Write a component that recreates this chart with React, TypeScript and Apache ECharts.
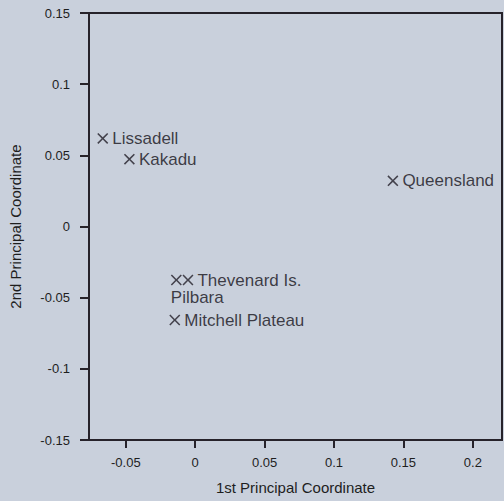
import React, { useEffect, useRef } from "react";
import * as echarts from "echarts";

const siteNames = ["Lissadell", "Kakadu", "Queensland", "Thevenard Is.", "Pilbara", "Mitchell Plateau"];
const pc1 = [-0.0666, -0.0474, 0.1424, -0.0052, -0.0136, -0.0147];
const pc2 = [0.0619, 0.0473, 0.0321, -0.0376, -0.0376, -0.0657];
const xTicks = [-0.05, 0, 0.05, 0.1, 0.15, 0.2];
const xTitle = "1st Principal Coordinate";
const yTitle = "2nd Principal Coordinate";

const FONT = "'Liberation Sans', Arial, Helvetica, sans-serif";
const INK = "#26222a";
const CROSS = "path://M0,1 L1,0 L5,4 L9,0 L10,1 L6,5 L10,9 L9,10 L5,6 L1,10 L0,9 L4,5 Z";

export default function App() {
  const ref = useRef<HTMLDivElement>(null);
  useEffect(() => {
    if (!ref.current) return;
    const chart = echarts.init(ref.current, undefined, { renderer: "svg" });
    const data = siteNames.map((n, i) => {
      const item: any = { name: n, value: [pc1[i], pc2[i]] };
      if (n === "Pilbara") {
        item.label = { position: [0, 14], align: "left", verticalAlign: "top" };
      }
      return item;
    });
    chart.setOption({
      animation: false,
      backgroundColor: "#c9d0dc",
      textStyle: { fontFamily: FONT },
      grid: {
        left: 85,
        right: 2,
        top: 13,
        bottom: 61,
        show: true,
        borderColor: INK,
        borderWidth: 2,
        backgroundColor: "transparent",
      },
      xAxis: {
        type: "value",
        min: -0.0765,
        max: 0.221,
        name: xTitle,
        nameLocation: "middle",
        nameGap: 40,
        nameTextStyle: { fontSize: 15, color: "#1e1e1e", fontFamily: FONT },
        axisLine: { show: true, onZero: false, lineStyle: { color: INK, width: 2 } },
        axisTick: { show: true, customValues: xTicks, length: 8, lineStyle: { color: INK, width: 2 } },
        axisLabel: { customValues: xTicks, margin: 16, fontSize: 13, color: "#1e1e1e", fontFamily: FONT },
        splitLine: { show: false },
      },
      yAxis: {
        type: "value",
        min: -0.15,
        max: 0.15,
        interval: 0.05,
        name: yTitle,
        nameLocation: "middle",
        nameGap: 66,
        nameRotate: 90,
        nameTextStyle: { fontSize: 15, color: "#1e1e1e", fontFamily: FONT },
        axisLine: { show: true, onZero: false, lineStyle: { color: INK, width: 2 } },
        axisTick: { show: true, length: 9, lineStyle: { color: INK, width: 2 } },
        axisLabel: { margin: 19, fontSize: 13, color: "#1e1e1e", fontFamily: FONT },
        splitLine: { show: false },
      },
      series: [
        {
          type: "scatter",
          symbol: CROSS,
          symbolSize: 11,
          itemStyle: { color: "#221e28" },
          label: {
            show: true,
            position: "right",
            distance: 4,
            formatter: "{b}",
            fontSize: 17,
            lineHeight: 17,
            color: "#15121a",
            fontFamily: FONT,
          },
          data,
        },
      ],
    });
    return () => chart.dispose();
  }, []);
  return (
    <div
      ref={ref}
      style={{ position: "fixed", left: 0, top: 0, width: 504, height: 501 }}
    />
  );
}
